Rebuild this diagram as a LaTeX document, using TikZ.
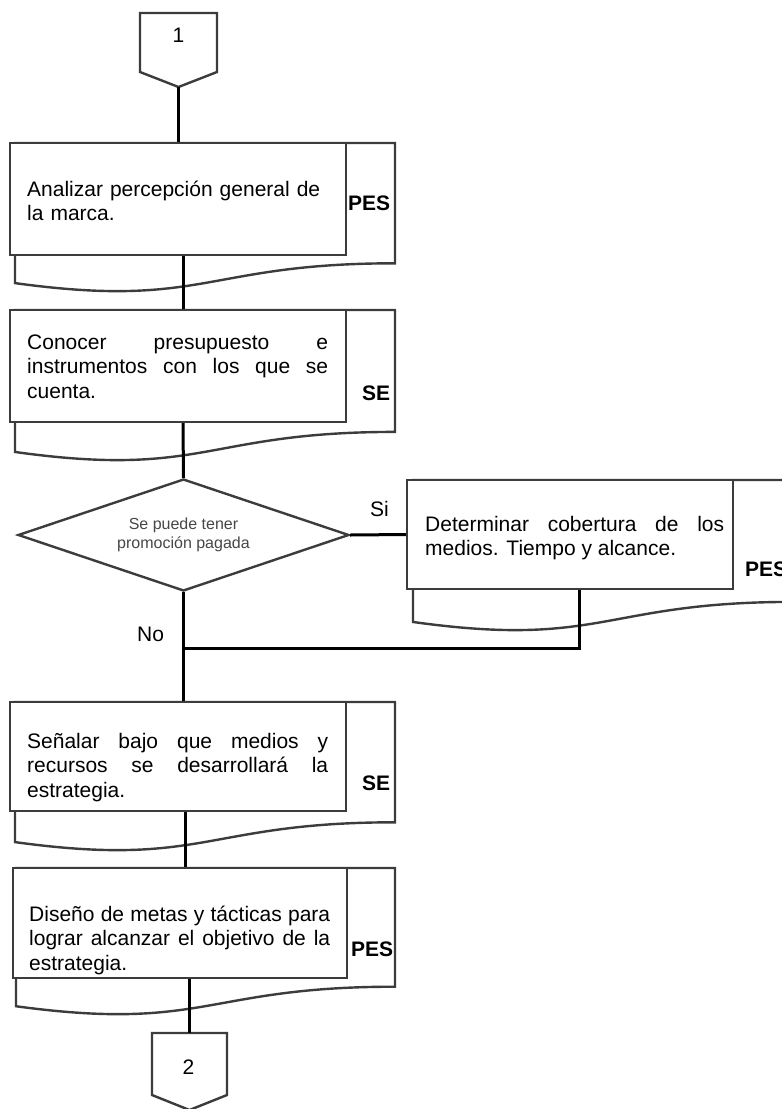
\documentclass[tikz,border=0pt]{standalone}
\usepackage{fontspec}
\setmainfont{Liberation Sans}
\usetikzlibrary{shapes.geometric}
\definecolor{shapegray}{HTML}{3C3C3C}

% document symbol with wavy bottom: left, top, width, height
\newcommand{\docshape}[4]{
  \draw[shapeline] (#1,#2) -- (#1+#3,#2) -- (#1+#3,#2+0.802*#4)
    .. controls (#1+0.5*#3,#2+0.802*#4) and (#1+0.5*#3,#2+1.108*#4) ..
    (#1,#2+0.934*#4) -- cycle;}

\begin{document}
\begin{tikzpicture}[x=1pt,y=-1pt,
  shapeline/.style={draw=shapegray, line width=2.4pt, fill=white, line join=miter},
  box/.style={shapeline, rectangle, inner sep=0pt, minimum width=336, minimum height=112},
  decision/.style={diamond, shapeline, aspect=2.95, inner sep=0pt,
    minimum width=331, minimum height=112, align=center, text=black!72,
    font=\fontsize{16}{18.5}\selectfont},
  txt/.style={anchor=base west, inner sep=0pt, text width=301pt, align=justify,
    font=\fontsize{21}{24.5}\selectfont},
  tag/.style={anchor=base west, inner sep=0pt, font=\fontsize{21}{24.5}\selectfont\bfseries},
  lbl/.style={inner sep=0pt, font=\fontsize{21}{24.5}\selectfont},
  conn/.style={draw=black, line width=3pt}]
\useasboundingbox (0,0) rectangle (782,1109);
\fill[white] (0,0) rectangle (782,1109);
\clip (0,0) rectangle (782,1109);

% off-page connector 1
\draw[shapeline] (140,13) -- (217,13) -- (217,72) -- (178.5,87) -- (140,72) -- cycle;
\node[lbl] (c1) at (178.5,35) {1};
\coordinate (c1tip) at (178.5,87);

% first process
\docshape{15}{143}{380}{150}
\node[box] (b1) at (178,199) {};
\node[txt, align=left] (t1) at (27,196) {Analizar percepción general de\\la marca.};
\node[tag] (r1) at (348,210) {PES};

% second process
\docshape{15}{310}{380}{152}
\node[box] (b2) at (178,366) {};
\node[txt] (t2) at (27,349) {Conocer presupuesto e\linebreak instrumentos con los que se\linebreak cuenta.};
\node[tag] (r2) at (362,400) {SE};

% decision
\node[decision] (d) at (183.5,535) {Se puede tener\\promoción pagada};
\node[lbl, anchor=base west] (si) at (370,516) {Si};
\node[lbl, anchor=base west] (no) at (137,641) {No};

% branch process
\docshape{413}{480}{380}{152}
\node[box, minimum width=326, minimum height=109] (b3) at (570,534.5) {};
\node[txt, text width=299pt] (t3) at (425,531) {Determinar cobertura de los\linebreak medios. Tiempo y alcance.};
\node[tag] (r3) at (745,576) {PES};
\coordinate (j) at (183.5,648);

% third process
\docshape{15}{702}{380}{150}
\node[box, minimum height=109] (b4) at (178,756.5) {};
\node[txt] (t4) at (27,748) {Señalar bajo que medios y\linebreak recursos se desarrollará la\linebreak estrategia.};
\node[tag] (r4) at (362,790) {SE};

% fourth process
\docshape{16}{868}{379}{148}
\node[box, minimum width=334, minimum height=110] (b5) at (180,923) {};
\node[txt] (t5) at (29,921) {Diseño de metas y tácticas para\linebreak lograr alcanzar el objetivo de la\linebreak estrategia.};
\node[tag] (r5) at (351,956) {PES};

% off-page connector 2
\draw[shapeline] (152,1033) -- (227,1033) -- (227,1095) -- (189.5,1110) -- (152,1095) -- cycle;
\node[lbl] (c2) at (188.5,1067) {2};
\coordinate (c2top) at (189,1033);

% connectors
\draw[conn] (c1tip) -- (c1tip |- b1.north);
\draw[conn] ([xshift=5pt]b1.south) -- ([xshift=5pt]b2.north);
\draw[conn] ([xshift=5pt]b2.south) -- (d.north);
\draw[conn] (d.east) -- (b3.west);
\draw[conn] (d.south) -- (d.south |- b4.north);
\draw[conn] ([xshift=9pt]b3.south) |- (j);
\draw[conn] ([xshift=7pt]b4.south) -- ([xshift=7pt]b4.south |- b5.north);
\draw[conn] ([xshift=9pt]b5.south) -- (c2top);
\end{tikzpicture}
\end{document}
